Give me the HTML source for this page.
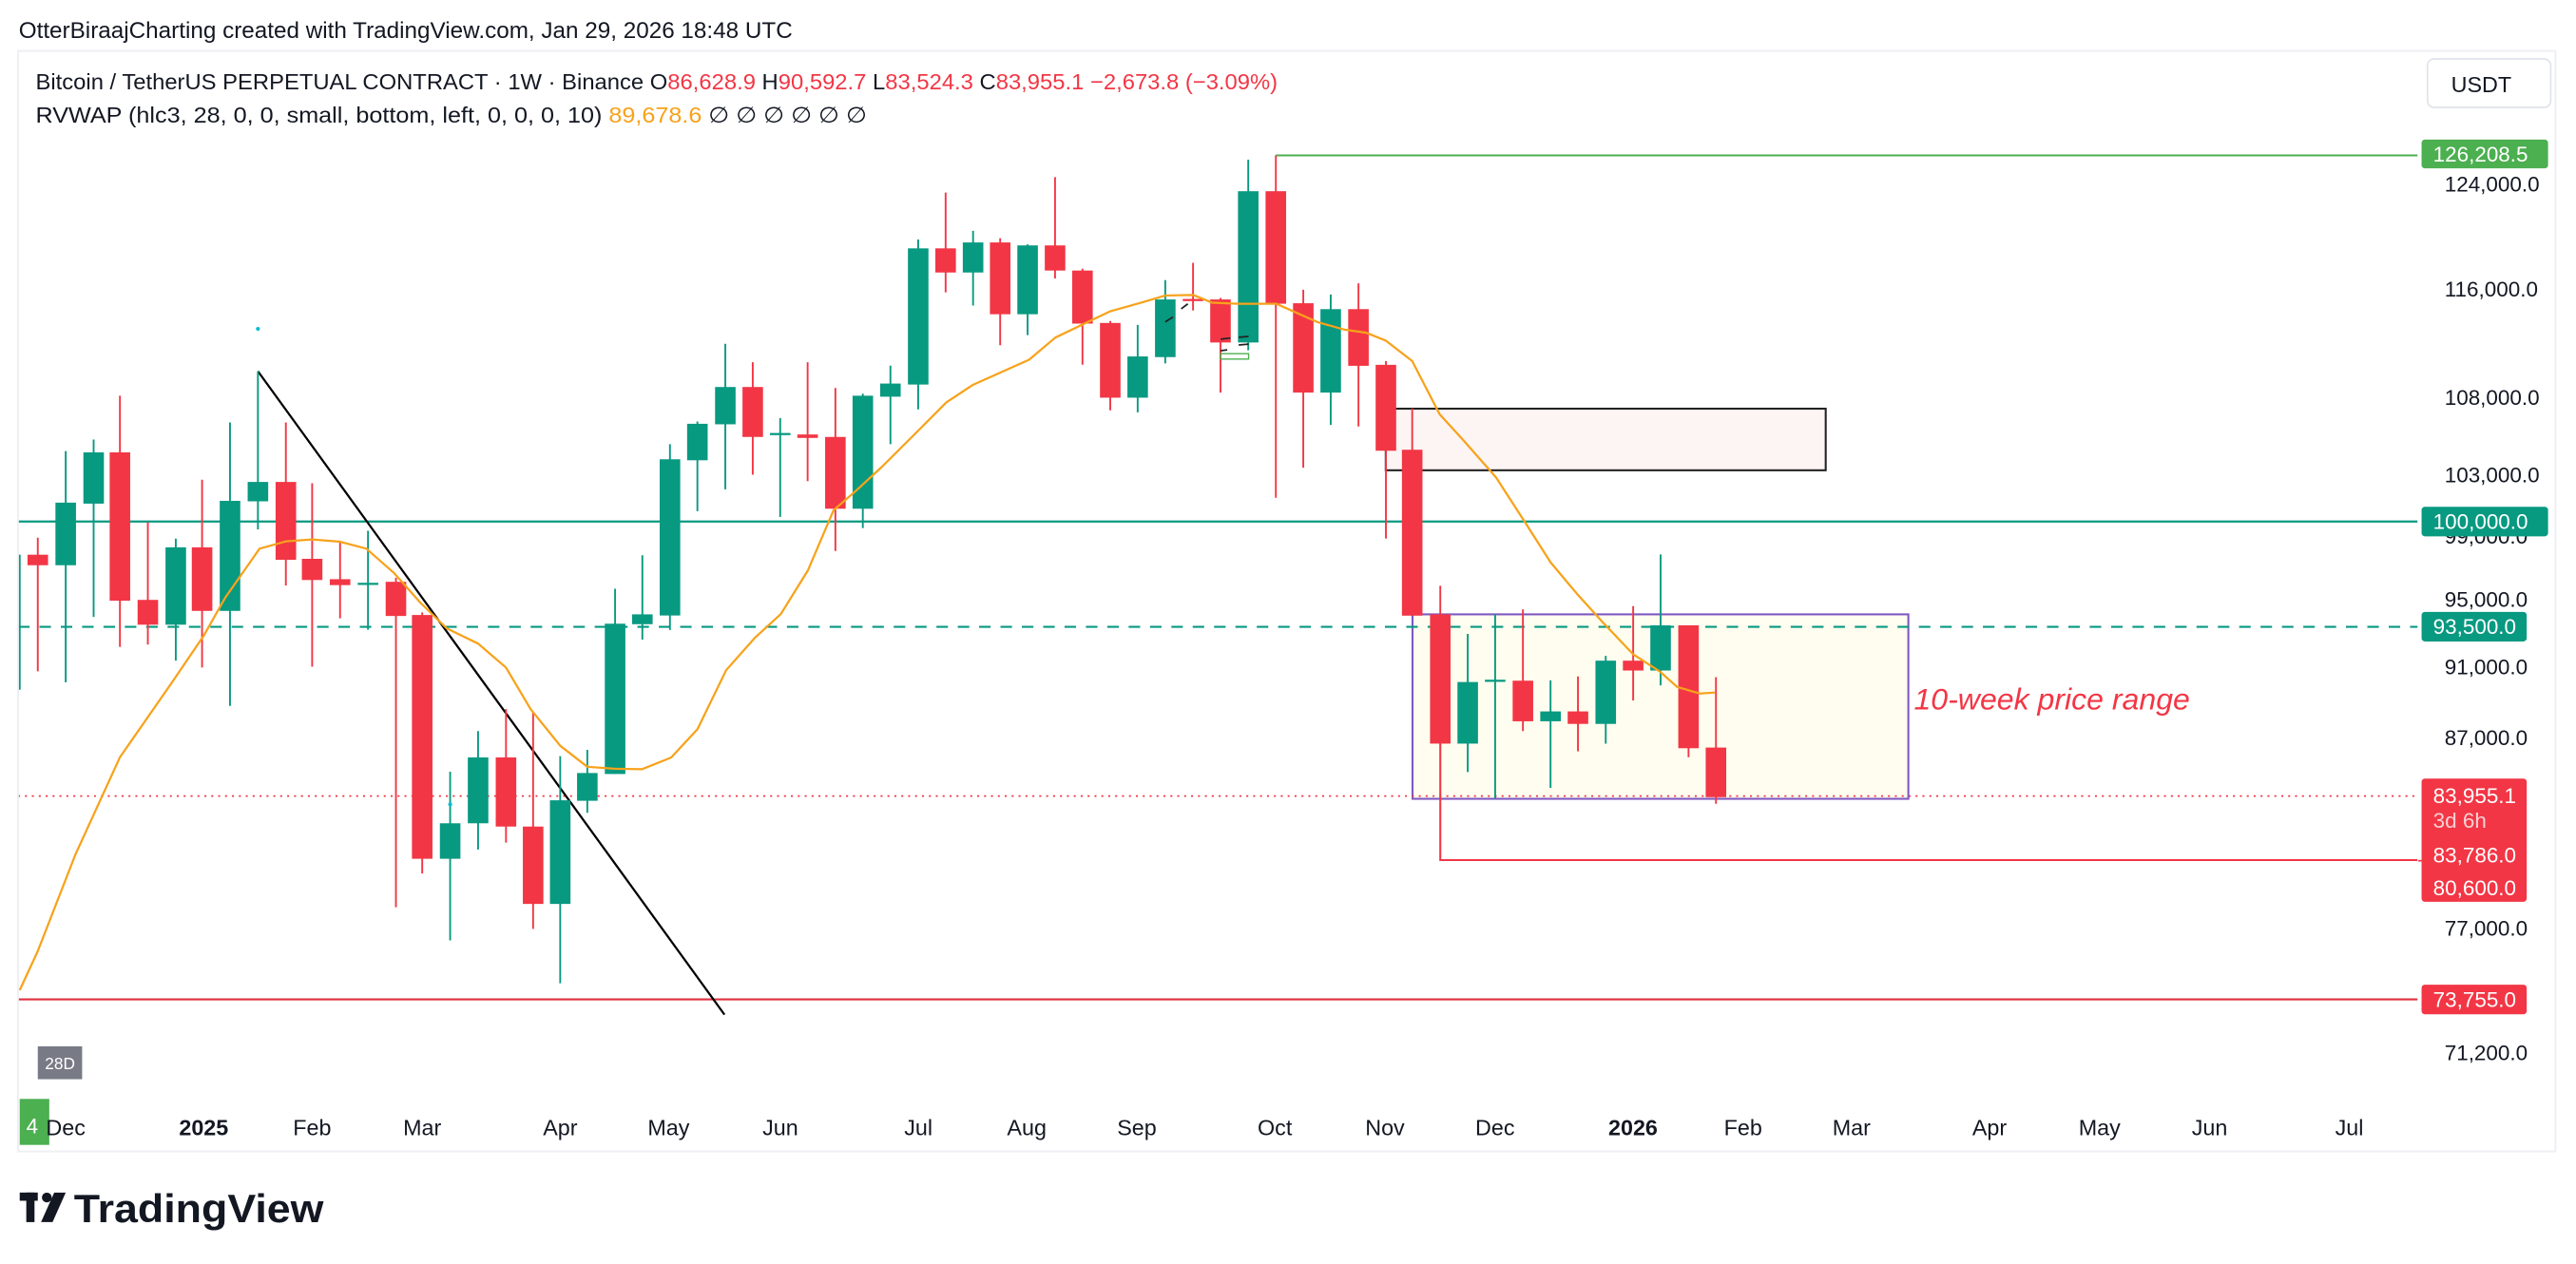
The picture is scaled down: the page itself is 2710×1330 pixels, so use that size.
<!DOCTYPE html>
<html><head><meta charset="utf-8"><style>
html,body{margin:0;padding:0;background:#fff;}
svg{display:block;}
text{font-family:"Liberation Sans","DejaVu Sans",sans-serif;}
</style></head><body>
<svg width="2710" height="1330" viewBox="0 0 1568 769.5" preserveAspectRatio="none" xmlns="http://www.w3.org/2000/svg">
<rect x="0" y="0" width="1568" height="769.5" fill="#fff"/>
<text x="11.4" y="23" font-size="14" fill="#131722" textLength="471" lengthAdjust="spacingAndGlyphs">OtterBiraajCharting created with TradingView.com, Jan 29, 2026 18:48 UTC</text>
<rect x="11" y="31" width="1544.5" height="670" fill="#fff" stroke="#eef0f3" stroke-width="1.2"/>
<defs><clipPath id="pc"><rect x="11.5" y="31.5" width="1460" height="641"/></clipPath></defs>

<!-- legend -->
<text x="21.7" y="54.5" font-size="13.5" fill="#131722" textLength="756" lengthAdjust="spacingAndGlyphs">Bitcoin / TetherUS PERPETUAL CONTRACT · 1W · Binance  O<tspan fill="#f23645">86,628.9</tspan>  H<tspan fill="#f23645">90,592.7</tspan>  L<tspan fill="#f23645">83,524.3</tspan>  C<tspan fill="#f23645">83,955.1  −2,673.8 (−3.09%)</tspan></text>
<text x="21.7" y="74.5" font-size="13.5" fill="#131722" textLength="506" lengthAdjust="spacingAndGlyphs">RVWAP (hlc3, 28, 0, 0, small, bottom, left, 0, 0, 0, 10)  <tspan fill="#f7a21b">89,678.6</tspan>  ∅  ∅  ∅  ∅  ∅  ∅</text>

<rect x="1477.6" y="35.9" width="75" height="29.5" rx="4" fill="#fff" stroke="#e0e3eb" stroke-width="1"/>
<text x="1492" y="56" font-size="13.5" fill="#131722">USDT</text>

<g clip-path="url(#pc)">
<!-- boxes -->
<rect x="843.5" y="248.8" width="267.8" height="37.5" fill="#fdf4f4" stroke="#222" stroke-width="1.2"/>
<rect x="859.8" y="374" width="301.8" height="112.3" fill="#fffdef" stroke="#7e57c2" stroke-width="1.2"/>
<!-- horizontal levels -->
<line x1="776.6" y1="94.6" x2="1472" y2="94.6" stroke="#4caf50" stroke-width="1.2"/>
<line x1="11" y1="317.5" x2="1472" y2="317.5" stroke="#089981" stroke-width="1.3"/>
<line x1="11" y1="381.6" x2="1472" y2="381.6" stroke="#089981" stroke-width="1.2" stroke-dasharray="7,6"/>
<line x1="11" y1="484.6" x2="1472" y2="484.6" stroke="#f23645" stroke-width="1" stroke-dasharray="1.2,3"/>
<line x1="11" y1="608.4" x2="1472" y2="608.4" stroke="#e0313f" stroke-width="1.2"/>
<polyline points="876.7,452 876.7,523.6 1472,523.6" fill="none" stroke="#f23645" stroke-width="1.2"/>
<!-- trendline -->
<line x1="157" y1="226" x2="441" y2="617.7" stroke="#000" stroke-width="1.3"/>

<g stroke-width="1.1">
<line x1="12" y1="337.7" x2="12" y2="419.9" stroke="#089981"/>
</g>
<!-- candles -->
<g id="c">
<!-- green -->
<g fill="#089981" stroke="#089981" stroke-width="1.1">
<line x1="40" y1="274.6" x2="40" y2="415.4"/><rect x="33.75" y="306" width="12.5" height="38.1" stroke="none"/>
<line x1="57" y1="267.6" x2="57" y2="375.6"/><rect x="50.75" y="275.4" width="12.5" height="31.2" stroke="none"/>
<line x1="107" y1="327.9" x2="107" y2="402.2"/><rect x="100.75" y="333.2" width="12.5" height="47.1" stroke="none"/>
<line x1="140" y1="257.2" x2="140" y2="429.7"/><rect x="133.75" y="304.9" width="12.5" height="67" stroke="none"/>
<line x1="157" y1="226" x2="157" y2="322.3"/><rect x="150.75" y="293.4" width="12.5" height="11.8" stroke="none"/>
<line x1="224" y1="323.1" x2="224" y2="383.4"/><rect x="217.75" y="354.8" width="12.5" height="1.3" stroke="none"/>
<line x1="274" y1="469.8" x2="274" y2="572.5"/><rect x="267.75" y="501.2" width="12.5" height="21.6" stroke="none"/>
<line x1="291" y1="445.1" x2="291" y2="517.2"/><rect x="284.75" y="461.1" width="12.5" height="40.1" stroke="none"/>
<line x1="341" y1="460.3" x2="341" y2="598.6"/><rect x="334.75" y="487.2" width="12.5" height="63.1" stroke="none"/>
<line x1="357.5" y1="456.5" x2="357.5" y2="494.8"/><rect x="351.25" y="470.6" width="12.5" height="16.9" stroke="none"/>
<line x1="374.4" y1="358.4" x2="374.4" y2="471.2"/><rect x="368.15" y="379.7" width="12.5" height="91.5" stroke="none"/>
<line x1="391" y1="338" x2="391" y2="389.4"/><rect x="384.75" y="374" width="12.5" height="6" stroke="none"/>
<line x1="407.8" y1="270.4" x2="407.8" y2="383.5"/><rect x="401.55" y="279.6" width="12.5" height="95.1" stroke="none"/>
<line x1="424.5" y1="256.6" x2="424.5" y2="311.2"/><rect x="418.25" y="258" width="12.5" height="22.2" stroke="none"/>
<line x1="441.5" y1="209.3" x2="441.5" y2="297.9"/><rect x="435.25" y="235.6" width="12.5" height="22.7" stroke="none"/>
<line x1="474.9" y1="254.5" x2="474.9" y2="314.7"/><rect x="468.65" y="263.6" width="12.5" height="1.3" stroke="none"/>
<line x1="525.2" y1="239.7" x2="525.2" y2="321.5"/><rect x="518.95" y="240.9" width="12.5" height="68.8" stroke="none"/>
<line x1="542" y1="222.6" x2="542" y2="270.4"/><rect x="535.75" y="233.5" width="12.5" height="8" stroke="none"/>
<line x1="558.9" y1="145.8" x2="558.9" y2="249.2"/><rect x="552.65" y="151.2" width="12.5" height="82.9" stroke="none"/>
<line x1="592.3" y1="140.5" x2="592.3" y2="186"/><rect x="586.05" y="147.6" width="12.5" height="18.3" stroke="none"/>
<line x1="625.5" y1="148.8" x2="625.5" y2="204"/><rect x="619.25" y="149.4" width="12.5" height="41.9" stroke="none"/>
<line x1="692.5" y1="197.8" x2="692.5" y2="251"/><rect x="686.25" y="217" width="12.5" height="25.1" stroke="none"/>
<line x1="709.3" y1="170.5" x2="709.3" y2="221.2"/><rect x="703.05" y="182.3" width="12.5" height="35.1" stroke="none"/>
<line x1="759.8" y1="97.2" x2="759.8" y2="213.3"/><rect x="753.55" y="116.4" width="12.5" height="92.1" stroke="none"/>
<line x1="810" y1="179.3" x2="810" y2="258.7"/><rect x="803.75" y="188.2" width="12.5" height="50.8" stroke="none"/>
<line x1="893.4" y1="385.9" x2="893.4" y2="470"/><rect x="887.15" y="415.2" width="12.5" height="37.5" stroke="none"/>
<line x1="910.1" y1="374" x2="910.1" y2="486"/><rect x="903.85" y="413.8" width="12.5" height="1.3" stroke="none"/>
<line x1="943.8" y1="414.2" x2="943.8" y2="479.6"/><rect x="937.55" y="433.1" width="12.5" height="6" stroke="none"/>
<line x1="977.4" y1="399.3" x2="977.4" y2="452.7"/><rect x="971.15" y="402.2" width="12.5" height="38.5" stroke="none"/>
<line x1="1010.8" y1="337.5" x2="1010.8" y2="417.2"/><rect x="1004.55" y="380.7" width="12.5" height="27.5" stroke="none"/>
</g>
<!-- red -->
<g fill="#f23645" stroke="#f23645" stroke-width="1.1">
<line x1="23" y1="327.3" x2="23" y2="408.7"/><rect x="16.75" y="337.7" width="12.5" height="6.4" stroke="none"/>
<line x1="73" y1="240.9" x2="73" y2="393.8"/><rect x="66.75" y="275.4" width="12.5" height="90.3" stroke="none"/>
<line x1="90" y1="318" x2="90" y2="392.4"/><rect x="83.75" y="365.2" width="12.5" height="15.1" stroke="none"/>
<line x1="123" y1="292" x2="123" y2="406.4"/><rect x="116.75" y="333.2" width="12.5" height="38.7" stroke="none"/>
<line x1="174" y1="257.2" x2="174" y2="356.5"/><rect x="167.75" y="293.4" width="12.5" height="47.4" stroke="none"/>
<line x1="190" y1="294.2" x2="190" y2="405.9"/><rect x="183.75" y="340.2" width="12.5" height="12.9" stroke="none"/>
<line x1="207" y1="329.3" x2="207" y2="376.4"/><rect x="200.75" y="352.6" width="12.5" height="3.6" stroke="none"/>
<line x1="241" y1="351.7" x2="241" y2="552.3"/><rect x="234.75" y="354.2" width="12.5" height="20.8" stroke="none"/>
<line x1="257" y1="372.8" x2="257" y2="531.8"/><rect x="250.75" y="374.4" width="12.5" height="148.4" stroke="none"/>
<line x1="308" y1="431.7" x2="308" y2="513"/><rect x="301.75" y="461.1" width="12.5" height="42.1" stroke="none"/>
<line x1="324.5" y1="433.9" x2="324.5" y2="565.5"/><rect x="318.25" y="503.2" width="12.5" height="47.1" stroke="none"/>
<line x1="458.2" y1="220.5" x2="458.2" y2="289"/><rect x="451.95" y="235.6" width="12.5" height="30.4" stroke="none"/>
<line x1="491.6" y1="220.5" x2="491.6" y2="292.9"/><rect x="485.35" y="264.5" width="12.5" height="2.1" stroke="none"/>
<line x1="508.5" y1="236.2" x2="508.5" y2="335.4"/><rect x="502.25" y="266" width="12.5" height="43.7" stroke="none"/>
<line x1="575.6" y1="117.2" x2="575.6" y2="178"/><rect x="569.35" y="151.2" width="12.5" height="14.7" stroke="none"/>
<line x1="608.8" y1="145" x2="608.8" y2="210.2"/><rect x="602.55" y="147.6" width="12.5" height="43.7" stroke="none"/>
<line x1="642.2" y1="107.8" x2="642.2" y2="169.5"/><rect x="635.95" y="149.4" width="12.5" height="15.3" stroke="none"/>
<line x1="658.9" y1="163.6" x2="658.9" y2="222"/><rect x="652.65" y="164.7" width="12.5" height="32.3" stroke="none"/>
<line x1="675.8" y1="195.4" x2="675.8" y2="249.8"/><rect x="669.55" y="196.6" width="12.5" height="45.5" stroke="none"/>
<line x1="726.2" y1="160" x2="726.2" y2="189"/><rect x="719.95" y="182" width="12.5" height="1.3" stroke="none"/>
<line x1="742.9" y1="181.4" x2="742.9" y2="239"/><rect x="736.65" y="182.3" width="12.5" height="26.2" stroke="none"/>
<line x1="776.6" y1="94.6" x2="776.6" y2="303"/><rect x="770.35" y="116.4" width="12.5" height="68.5" stroke="none"/>
<line x1="793.3" y1="176.4" x2="793.3" y2="284.7"/><rect x="787.05" y="184.6" width="12.5" height="54.4" stroke="none"/>
<line x1="826.9" y1="172.5" x2="826.9" y2="259.6"/><rect x="820.65" y="188.2" width="12.5" height="34.5" stroke="none"/>
<line x1="843.6" y1="219.8" x2="843.6" y2="327.8"/><rect x="837.35" y="222.1" width="12.5" height="52.3" stroke="none"/>
<line x1="859.6" y1="248.7" x2="859.6" y2="374.8"/><rect x="853.35" y="273.8" width="12.5" height="101" stroke="none"/>
<line x1="876.7" y1="356.6" x2="876.7" y2="452.7"/><rect x="870.45" y="374" width="12.5" height="78.7" stroke="none"/>
<line x1="927" y1="371" x2="927" y2="445.1"/><rect x="920.75" y="414.4" width="12.5" height="24.7" stroke="none"/>
<line x1="960.5" y1="411.8" x2="960.5" y2="457.4"/><rect x="954.25" y="433.1" width="12.5" height="7.6" stroke="none"/>
<line x1="994.1" y1="369" x2="994.1" y2="426.4"/><rect x="987.85" y="402.2" width="12.5" height="6" stroke="none"/>
<line x1="1027.8" y1="380.7" x2="1027.8" y2="461"/><rect x="1021.55" y="380.7" width="12.5" height="74.8" stroke="none"/>
<line x1="1044.5" y1="412.2" x2="1044.5" y2="489.3"/><rect x="1038.25" y="455.1" width="12.5" height="30.2" stroke="none"/>
</g>
</g>
<!-- small marks -->
<circle cx="157" cy="200.2" r="1.2" fill="#00bcd4"/>
<circle cx="274" cy="489.7" r="1.2" fill="#00bcd4"/>
<rect x="743" y="215.3" width="17" height="3.3" fill="none" stroke="#4caf50" stroke-width="0.8"/>
<g stroke="#222" stroke-width="1">
<line x1="709.3" y1="196" x2="714" y2="193"/><line x1="719" y1="188" x2="723" y2="185"/>
<line x1="743" y1="206.5" x2="749" y2="205.8"/><line x1="754" y1="205.3" x2="760" y2="204.8"/>
<line x1="743" y1="213.5" x2="747" y2="213"/><line x1="754" y1="210" x2="760" y2="209.5"/>
</g>
<!-- RVWAP -->
<polyline fill="none" stroke="#f7a21b" stroke-width="1.3" stroke-linejoin="round" points="12,602.8 23,579 46,520 73,461 105,415 124,387 137,364 158,334 174,329.6 190,328.4 207,329.8 223,334 240,349 256,367 272,382.6 291,391.8 308,406.4 323,431.7 341,454 357.5,466.8 374,468 390.7,468.3 408.5,461.2 424.5,444 442,408 459.3,388.5 475.3,373.8 491.8,347.2 507.4,310.6 521,298.8 537,284 557.7,263.4 576,245 592,234.4 626.4,219 642.4,205.5 675.8,189.5 694.4,184.3 709.3,179.9 726.4,179.6 737.9,184.3 753.9,184.9 776.8,184.9 802,196.1 818,200.6 831.7,202.6 843.6,207.4 859.6,219.8 876.3,252.2 891.2,268.5 910.6,290.6 927.8,317.2 943.8,342.3 959.9,361.5 975.9,379.2 994.2,398.4 1010.2,408.7 1020.9,418.2 1034.6,422.2 1043.8,421.6"/>
<text x="1165" y="432" font-size="18" font-style="italic" fill="#f23645" textLength="168" lengthAdjust="spacingAndGlyphs">10-week price range</text>
</g>

<!-- price axis labels -->
<g font-size="13" fill="#131722" font-family="'DejaVu Sans',sans-serif">
<text x="1488" y="116.5">124,000.0</text>
<text x="1488" y="180.5">116,000.0</text>
<text x="1488" y="246.5">108,000.0</text>
<text x="1488" y="293.5">103,000.0</text>
<text x="1488" y="331">99,000.0</text>
<text x="1488" y="369.5">95,000.0</text>
<text x="1488" y="410.5">91,000.0</text>
<text x="1488" y="453.5">87,000.0</text>
<text x="1488" y="569.5">77,000.0</text>
<text x="1488" y="645.5">71,200.0</text>
</g>
<!-- tags -->
<g font-size="13" fill="#fff" font-family="'DejaVu Sans',sans-serif">
<rect x="1474" y="85" width="77" height="17.5" rx="2" fill="#4caf50"/>
<text x="1481" y="98.5">126,208.5</text>
<rect x="1474" y="308.5" width="77" height="18" rx="2" fill="#089981"/>
<text x="1481" y="322">100,000.0</text>
<rect x="1474" y="372.5" width="64" height="18" rx="2" fill="#089981"/>
<text x="1481" y="386">93,500.0</text>
<rect x="1474" y="474" width="64" height="75" rx="2" fill="#f23645"/>
<text x="1481" y="489">83,955.1</text>
<text x="1481" y="504" fill="#fbd0d4">3d 6h</text>
<text x="1481" y="525">83,786.0</text>
<text x="1481" y="545">80,600.0</text>
<rect x="1474" y="599.5" width="64" height="18" rx="2" fill="#f23645"/>
<text x="1481" y="613">73,755.0</text>
</g>
<line x1="1472" y1="524" x2="1474" y2="524" stroke="#f23645"/>

<!-- bottom badges -->
<rect x="23" y="637" width="27" height="20" fill="#787b86"/>
<text x="36.5" y="651" font-size="10" fill="#fff" text-anchor="middle">28D</text>
<rect x="12" y="669" width="18" height="28" fill="#4caf50"/>
<text x="16" y="690" font-size="13" fill="#fff">4</text>

<!-- time axis -->
<g font-size="13.5" fill="#131722" text-anchor="middle">
<text x="40" y="691">Dec</text>
<text x="124" y="691" font-weight="bold">2025</text>
<text x="190" y="691">Feb</text>
<text x="257" y="691">Mar</text>
<text x="341" y="691">Apr</text>
<text x="407" y="691">May</text>
<text x="475" y="691">Jun</text>
<text x="559" y="691">Jul</text>
<text x="625" y="691">Aug</text>
<text x="692" y="691">Sep</text>
<text x="776" y="691">Oct</text>
<text x="843" y="691">Nov</text>
<text x="910" y="691">Dec</text>
<text x="994" y="691" font-weight="bold">2026</text>
<text x="1061" y="691">Feb</text>
<text x="1127" y="691">Mar</text>
<text x="1211" y="691">Apr</text>
<text x="1278" y="691">May</text>
<text x="1345" y="691">Jun</text>
<text x="1430" y="691">Jul</text>
</g>

<!-- logo -->
<g fill="#131722">
<rect x="12" y="726" width="11" height="5"/>
<rect x="16" y="726" width="5" height="18"/>
<circle cx="28.5" cy="729" r="3"/>
<polygon points="33,726 40,726 32,744 25,744"/>
</g>
<text x="45" y="744" font-size="24" font-weight="bold" fill="#131722" textLength="152" lengthAdjust="spacingAndGlyphs">TradingView</text>
</svg>
</body></html>
